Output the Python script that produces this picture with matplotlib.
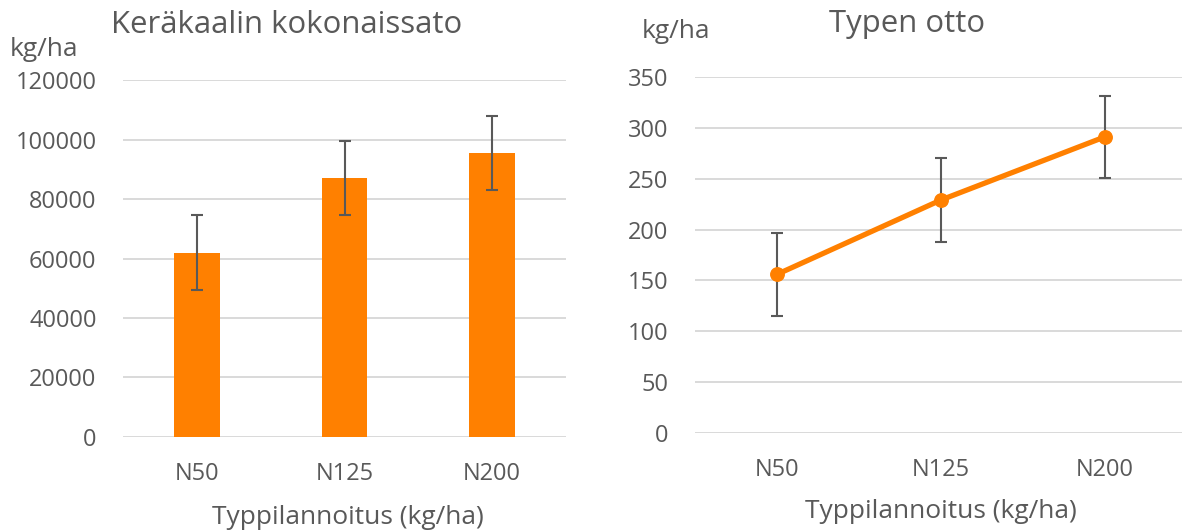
import matplotlib
matplotlib.use("Agg")
import matplotlib.pyplot as plt
import numpy as np

plt.rcParams['font.family'] = ['Open Sans', 'DejaVu Sans']

categories = ["N50", "N125", "N200"]
yield_vals = [62000, 87000, 95600]
yield_err = [12500, 12400, 12400]
n_vals = [156, 229, 291]
n_err = [41, 41, 40.5]
left_ticks = [0, 20000, 40000, 60000, 80000, 100000, 120000]
right_ticks = [0, 50, 100, 150, 200, 250, 300, 350]

ORANGE = "#FF8000"
GRID = "#D9D9D9"
TXT = "#595959"
ERR = "#595959"

W, H = 1182, 531
fig = plt.figure(figsize=(W / 100, H / 100), dpi=100)

def ax_rect(x0, x1, ytop, ybot):
    return [x0 / W, 1 - ybot / H, (x1 - x0) / W, (ybot - ytop) / H]

x = np.arange(len(categories))
TICK_FS = 17

# Left chart
ax1 = fig.add_axes(ax_rect(123, 566, 80.3, 436.7))
ax1.bar(x, yield_vals, width=0.307, color=ORANGE, zorder=2)
ax1.errorbar(x, yield_vals, yerr=yield_err, fmt='none', ecolor=ERR,
             elinewidth=1.5, capsize=4.5, capthick=1.5, zorder=3)
ax1.set_xlim(-0.5, 2.5)
ax1.set_ylim(0, 120000)
ax1.set_yticks(left_ticks)
ax1.set_yticklabels([str(v) for v in left_ticks])
ax1.set_xticks(x)
ax1.set_xticklabels(categories)
ax1.grid(axis='y', color=GRID, linewidth=1.4, zorder=0)
ax1.set_axisbelow(True)
for s in ax1.spines.values():
    s.set_visible(False)
ax1.tick_params(axis='y', length=0, pad=19, labelsize=TICK_FS, labelcolor=TXT)
ax1.tick_params(axis='x', length=0, pad=18, labelsize=TICK_FS, labelcolor=TXT)

# Right chart
ax2 = fig.add_axes(ax_rect(695, 1187, 76.7, 433.3))
ax2.errorbar(x, n_vals, yerr=n_err, fmt='none', ecolor=ERR,
             elinewidth=1.5, capsize=4.5, capthick=1.5, zorder=2)
ax2.plot(x, n_vals, color=ORANGE, linewidth=3.8, marker='o', markersize=9.7,
         zorder=3, solid_capstyle='round')
ax2.set_xlim(-0.5, 2.5)
ax2.set_ylim(0, 350)
ax2.set_yticks(right_ticks)
ax2.set_xticks(x)
ax2.set_xticklabels(categories)
ax2.grid(axis='y', color=GRID, linewidth=1.4, zorder=0)
ax2.set_axisbelow(True)
for s in ax2.spines.values():
    s.set_visible(False)
ax2.tick_params(axis='y', length=0, pad=19, labelsize=TICK_FS, labelcolor=TXT)
ax2.tick_params(axis='x', length=0, pad=18, labelsize=TICK_FS, labelcolor=TXT)

# Titles and labels
fig.text(287 / W, 1 - 25 / H, "Keräkaalin kokonaissato", ha='center', va='center',
         fontsize=22.4, color=TXT)
fig.text(907 / W, 1 - 24 / H, "Typen otto", ha='center', va='center',
         fontsize=22.4, color=TXT)
fig.text(44 / W, 1 - 49 / H, "kg/ha", ha='center', va='center', fontsize=19, color=TXT)
fig.text(676 / W, 1 - 32 / H, "kg/ha", ha='center', va='center', fontsize=19, color=TXT)
fig.text(347.5 / W, 1 - 517 / H, "Typpilannoitus (kg/ha)", ha='center', va='center',
         fontsize=19, color=TXT)
fig.text(941 / W, 1 - 512 / H, "Typpilannoitus (kg/ha)", ha='center', va='center',
         fontsize=19, color=TXT)

fig.savefig("out.png", dpi=100)
